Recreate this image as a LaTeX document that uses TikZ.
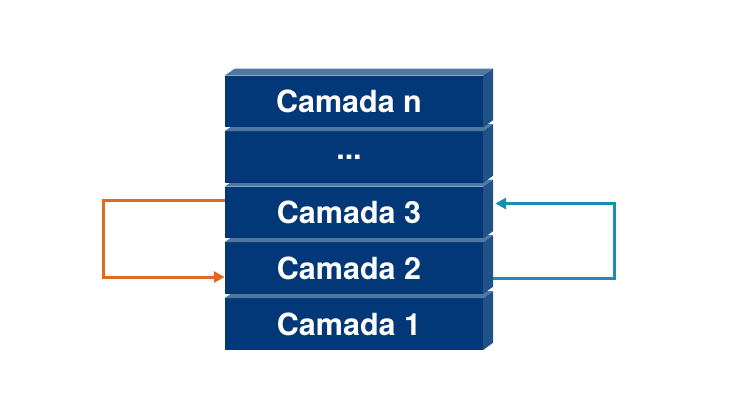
\documentclass[tikz,border=0pt]{standalone}
\usepackage{fontspec}
\setmainfont{TeX Gyre Heros}
\usepackage{tikz}
\usetikzlibrary{arrows.meta}
\definecolor{azul}{RGB}{2,56,120}
\definecolor{topo}{RGB}{78,120,160}
\definecolor{lado}{RGB}{32,82,136}
\definecolor{laranja}{RGB}{222,108,30}
\definecolor{ciano}{RGB}{28,140,180}
\newcommand{\pontos}{...}
\tikzset{
  camada/.style={rectangle, fill=azul, text=white, minimum width=258, minimum height=51.5, inner sep=0,
    font=\fontsize{30.5}{30.5}\selectfont\bfseries},
  seta/.style={line width=3pt, -{Triangle[length=11pt,width=11pt]}}
}
\begin{document}
\begin{tikzpicture}[x=1pt,y=-1pt]
\useasboundingbox (0,0) rectangle (736,413);
% blocos de baixo para cima
\foreach \ypos/\nome/\texto in {324/c1/Camada 1, 268/c2/Camada 2, 212.5/c3/Camada 3, 157/cx/\pontos, 101.5/cn/Camada n} {
  \node[camada] (\nome) at (354,\ypos) {\hspace*{-10pt}\texto};
  \fill[topo] (\nome.north west) -- ++(10,-7) -- ++(258,0) -- (\nome.north east) -- cycle;
  \fill[lado] (\nome.north east) -- ++(10,-7) -- ++(0,51.5) -- (\nome.south east) -- cycle;
}
% setas
\draw[seta, laranja] ([yshift=12pt]c3.west) -- ++(-121,0) |- ([yshift=-9pt]c2.west);
\draw[seta, ciano] ([shift={(10pt,-10pt)}]c2.east) -- ++(121,0) |- ([shift={(12pt,9pt)}]c3.east);
\end{tikzpicture}
\end{document}
